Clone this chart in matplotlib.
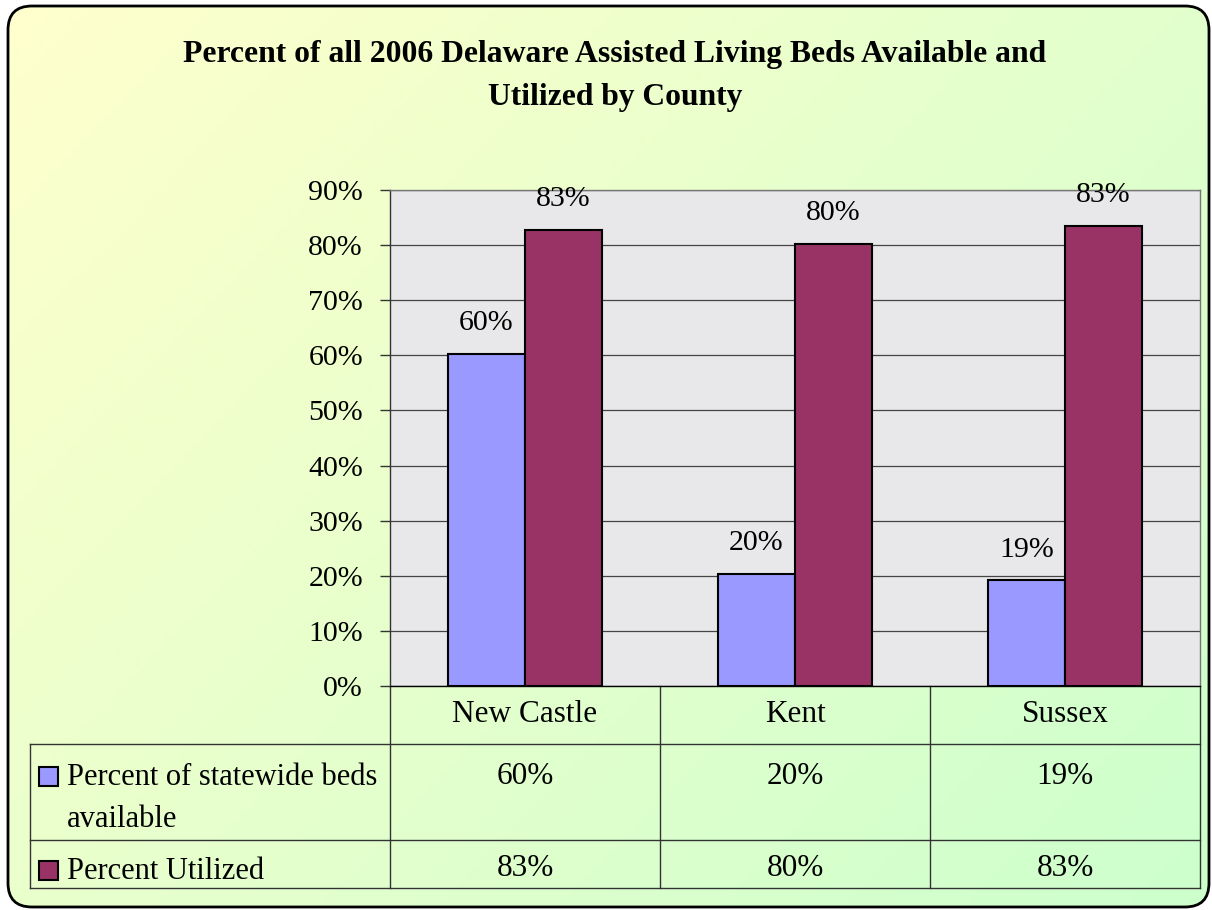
import numpy as np
import matplotlib.pyplot as plt
from matplotlib.patches import FancyBboxPatch, Rectangle
from matplotlib.lines import Line2D

# data
counties = ['New Castle', 'Kent', 'Sussex']
beds_available = [60.3, 20.3, 19.2]
utilized = [82.8, 80.2, 83.5]
available_labels = ['60%', '20%', '19%']
utilized_labels = ['83%', '80%', '83%']
series_names = ['Percent of statewide beds\navailable', 'Percent Utilized']
yticks = np.arange(0, 91, 10)

blue = '#9999FF'
maroon = '#993366'
plt.rcParams['font.family'] = ['Liberation Serif', 'DejaVu Serif']

W, H = 1212, 910
fig = plt.figure(figsize=(W / 100, H / 100), dpi=100)

# background: rounded frame with diagonal yellow -> green gradient
bg = fig.add_axes([0, 0, 1, 1])
bg.set_xlim(0, W)
bg.set_ylim(H, 0)
bg.axis('off')
gx, gy = np.meshgrid(np.linspace(0, 1, 300), np.linspace(0, 1, 300))
t = 0.58 * gx + 0.42 * gy
c1 = np.array([255, 255, 204]) / 255
c2 = np.array([204, 255, 204]) / 255
grad = c1[None, None, :] * (1 - t[..., None]) + c2[None, None, :] * t[..., None]
frame = FancyBboxPatch((8, 6), W - 11, H - 9, boxstyle='round,pad=0,rounding_size=24',
                       facecolor='none', edgecolor='black', lw=2, zorder=3)
bg.add_patch(frame)
im = bg.imshow(grad, extent=[8, W - 3, H - 3, 6], aspect='auto', zorder=1)
im.set_clip_path(frame)

# main axes
x0, x1, ytop, ybot = 390, 1200, 190, 686
ax = fig.add_axes([x0 / W, 1 - ybot / H, (x1 - x0) / W, (ybot - ytop) / H])
ax.set_facecolor('#e8e8ea')
ax.set_xlim(-0.5, 2.5)
ax.set_ylim(0, 90)

x = np.arange(len(counties))
bw = 0.285
ax.bar(x - bw / 2, beds_available, bw, color=blue, edgecolor='black', lw=1.5, zorder=3)
ax.bar(x + bw / 2, utilized, bw, color=maroon, edgecolor='black', lw=1.5, zorder=3)
for i in range(len(counties)):
    ax.text(x[i] - bw / 2, beds_available[i] + 3.2, available_labels[i], ha='center', va='bottom', fontsize=21.5)
    ax.text(x[i] + bw / 2, utilized[i] + 3.2, utilized_labels[i], ha='center', va='bottom', fontsize=21.5)

ax.set_yticks(yticks)
ax.set_yticklabels([f'{v}%' for v in yticks], fontsize=21.5)
ax.set_xticks([])
ax.yaxis.grid(True, color='#444444', lw=0.9, zorder=1)
ax.set_axisbelow(True)
ax.tick_params(axis='y', length=7.5, width=1, pad=12, color='#333333')
for s in ax.spines.values():
    s.set_color('#777777')
    s.set_linewidth(1)
ax.spines['bottom'].set_color('black')
ax.spines['left'].set_color('#333333')

# data table below the plot
def fy(py):
    return (ybot - py) / (ybot - ytop)

def fx(px):
    return (px - x0) / (x1 - x0)

tr = ax.transAxes
lc = '#333333'
for py in [744, 840, 888]:
    ax.add_line(Line2D([fx(30), 1], [fy(py), fy(py)], transform=tr, color=lc, lw=1, clip_on=False))
for xf in [0, 1 / 3, 2 / 3, 1]:
    ax.add_line(Line2D([xf, xf], [0, fy(888)], transform=tr, color=lc, lw=1, clip_on=False))
ax.add_line(Line2D([fx(30), fx(30)], [fy(744), fy(888)], transform=tr, color=lc, lw=1, clip_on=False))

for i, name in enumerate(counties):
    cx = (i + 0.5) / 3
    ax.text(cx, fy(715), name, transform=tr, ha='center', va='center', fontsize=22.5)
    ax.text(cx, fy(776), available_labels[i], transform=tr, ha='center', va='center', fontsize=22.5)
    ax.text(cx, fy(869), utilized_labels[i], transform=tr, ha='center', va='center', fontsize=22.5)

for name, col, ky, ty in [(series_names[0], blue, 767, 763), (series_names[1], maroon, 861, 857)]:
    ax.add_patch(Rectangle((fx(39), fy(ky + 19)), fx(58) - fx(39), fy(ky) - fy(ky + 19),
                           transform=tr, facecolor=col, edgecolor='black', lw=1.5, clip_on=False))
    ax.text(fx(67), fy(ty), name, transform=tr, ha='left', va='top', fontsize=22, linespacing=1.6)

fig.text(615 / W, 1 - 76 / H, 'Percent of all 2006 Delaware Assisted Living Beds Available and\nUtilized by County',
         ha='center', va='center', fontsize=22.8, fontweight='bold', linespacing=1.6)

fig.savefig('out.png', dpi=100)
